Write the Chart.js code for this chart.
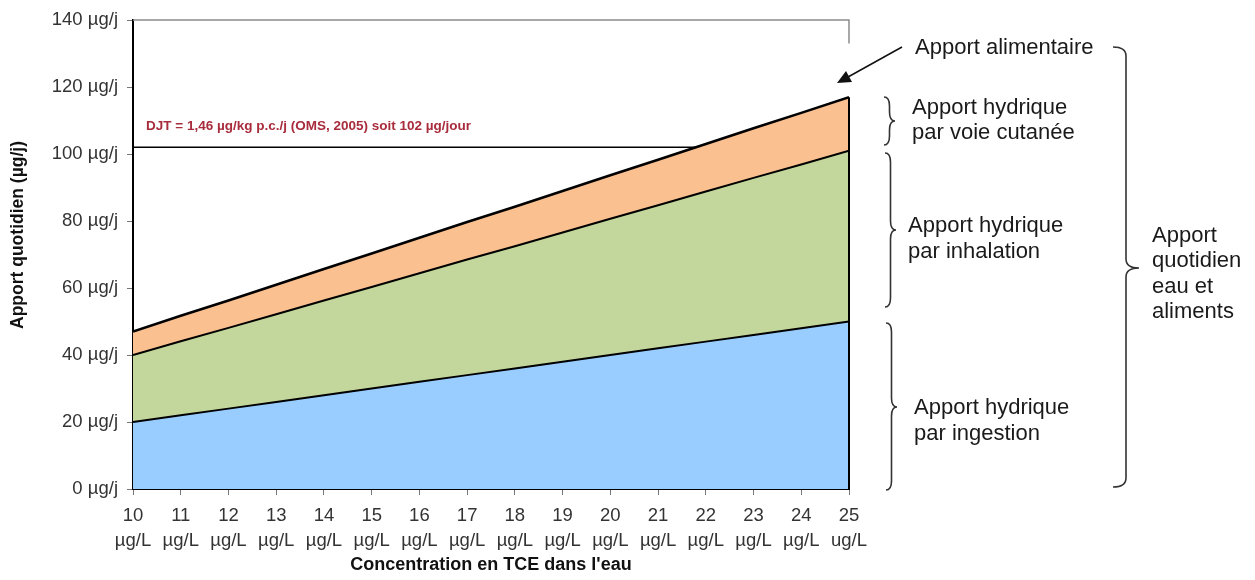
<!DOCTYPE html>
<html lang="fr">
<head>
<meta charset="utf-8">
<title>Apport quotidien en TCE</title>
<script src="https://cdn.jsdelivr.net/npm/chart.js@4.4.1/dist/chart.umd.min.js"></script>
<style>
  html, body { margin: 0; padding: 0; background: #fff; }
  canvas { display: block; }
</style>
</head>
<body>
<canvas id="tceChart" width="1255" height="580"></canvas>
<script>
// concentration en TCE dans l'eau (µg/L)
const concentrations = [10, 11, 12, 13, 14, 15, 16, 17, 18, 19, 20, 21, 22, 23, 24, 25];

// apports (µg/j), couches empilées
const ingestion = [20, 22, 24, 26, 28, 30, 32, 34, 36, 38, 40, 42, 44, 46, 48, 50];
const inhalation = [20, 22.1, 24.1, 26.2, 28.3, 30.3, 32.4, 34.5, 36.5, 38.6, 40.7, 42.7, 44.8, 46.9, 48.9, 51];
const cutanee = [7, 7.6, 8.2, 8.8, 9.4, 10, 10.6, 11.2, 11.8, 12.4, 13, 13.6, 14.2, 14.8, 15.4, 16];

const djtValue = 102;
const djtLabel = "DJT = 1,46 µg/kg p.c./j (OMS, 2005) soit 102 µg/jour";

const xTickLabels = [
  ["10", "µg/L"], ["11", "µg/L"], ["12", "µg/L"], ["13", "µg/L"], ["14", "µg/L"],
  ["15", "µg/L"], ["16", "µg/L"], ["17", "µg/L"], ["18", "µg/L"], ["19", "µg/L"],
  ["20", "µg/L"], ["21", "µg/L"], ["22", "µg/L"], ["23", "µg/L"], ["24", "µg/L"],
  ["25", "ug/L"]
];
const yTickLabels = ["0 µg/j", "20 µg/j", "40 µg/j", "60 µg/j", "80 µg/j", "100 µg/j", "120 µg/j", "140 µg/j"];
const yTitle = "Apport quotidien (µg/j)";

const toPoints = arr => concentrations.map((x, i) => ({ x: x, y: arr[i] }));

// where the total crosses the DJT
const totals = concentrations.map((_, i) => ingestion[i] + inhalation[i] + cutanee[i]);
let djtEnd = concentrations[concentrations.length - 1];
for (let i = 1; i < totals.length; i++) {
  if (totals[i - 1] <= djtValue && totals[i] >= djtValue) {
    const t = (djtValue - totals[i - 1]) / (totals[i] - totals[i - 1]);
    djtEnd = concentrations[i - 1] + t * (concentrations[i] - concentrations[i - 1]);
    break;
  }
}

const FONT = "Arial, 'Liberation Sans', sans-serif";

function drawBrace(ctx, x, top, mid, bottom, w) {
  const r = 9;
  const cx = x + w * 0.5;
  ctx.beginPath();
  ctx.moveTo(x, top);
  ctx.quadraticCurveTo(cx, top, cx, top + r);
  ctx.lineTo(cx, mid - r);
  ctx.quadraticCurveTo(cx, mid, x + w, mid);
  ctx.quadraticCurveTo(cx, mid, cx, mid + r);
  ctx.lineTo(cx, bottom - r);
  ctx.quadraticCurveTo(cx, bottom, x, bottom);
  ctx.stroke();
}

const annotations = {
  id: "annotations",
  afterDatasetsDraw(chart) {
    const ctx = chart.ctx;
    const xs = chart.scales.x, ys = chart.scales.y;
    const last = concentrations.length - 1;
    ctx.save();

    // right edge of the stacked area
    ctx.strokeStyle = "#000";
    ctx.lineWidth = 2;
    ctx.beginPath();
    ctx.moveTo(xs.getPixelForValue(concentrations[last]), ys.getPixelForValue(0));
    ctx.lineTo(xs.getPixelForValue(concentrations[last]), ys.getPixelForValue(totals[last]));
    ctx.stroke();

    // grey frame at the top
    ctx.strokeStyle = "#8c8c8c";
    ctx.lineWidth = 1.5;
    ctx.beginPath();
    ctx.moveTo(xs.getPixelForValue(10), ys.getPixelForValue(140));
    ctx.lineTo(xs.getPixelForValue(25), ys.getPixelForValue(140));
    ctx.lineTo(xs.getPixelForValue(25), ys.getPixelForValue(133));
    ctx.stroke();

    // y title
    ctx.save();
    ctx.translate(18, 235);
    ctx.rotate(-Math.PI / 2);
    ctx.fillStyle = "#111";
    ctx.font = "bold 17.5px " + FONT;
    ctx.textAlign = "center";
    ctx.textBaseline = "middle";
    ctx.fillText(yTitle, 0, 0);
    ctx.restore();

    // DJT label
    ctx.fillStyle = "#a82c3c";
    ctx.font = "bold 13.5px " + FONT;
    ctx.textBaseline = "middle";
    ctx.textAlign = "left";
    ctx.fillText(djtLabel, xs.getPixelForValue(10) + 13, ys.getPixelForValue(djtValue) - 21);

    // arrow to the top of the stack
    ctx.strokeStyle = "#111";
    ctx.fillStyle = "#111";
    ctx.lineWidth = 1.5;
    ctx.beginPath();
    ctx.moveTo(902, 47);
    ctx.lineTo(848, 77);
    ctx.stroke();
    ctx.beginPath();
    ctx.moveTo(837, 83);
    ctx.lineTo(846, 71);
    ctx.lineTo(852, 82);
    ctx.closePath();
    ctx.fill();

    // braces
    ctx.strokeStyle = "#333";
    ctx.lineWidth = 1.6;
    drawBrace(ctx, 884, 97, 121, 145, 11);
    drawBrace(ctx, 885, 153, 230, 307, 11);
    drawBrace(ctx, 886, 323, 407, 490, 11);
    drawBrace(ctx, 1113, 47, 268, 487, 26);

    // texts
    ctx.fillStyle = "#1a1a1a";
    ctx.font = "22px " + FONT;
    ctx.textAlign = "left";
    ctx.fillText("Apport alimentaire", 915, 48);
    ctx.fillText("Apport hydrique", 912, 108);
    ctx.fillText("par voie cutanée", 912, 133);
    ctx.fillText("Apport hydrique", 908, 226);
    ctx.fillText("par inhalation", 908, 252);
    ctx.fillText("Apport hydrique", 914, 408);
    ctx.fillText("par ingestion", 914, 434);
    ctx.fillText("Apport", 1152, 236);
    ctx.fillText("quotidien", 1152, 261);
    ctx.fillText("eau et", 1152, 287);
    ctx.fillText("aliments", 1152, 312);
    ctx.restore();
  }
};

const tickFont = { family: FONT, size: 18.5 };

new Chart(document.getElementById("tceChart"), {
  type: "line",
  data: {
    datasets: [
      {
        label: "Apport hydrique par ingestion",
        data: toPoints(ingestion),
        stack: "apport",
        fill: "origin",
        backgroundColor: "#99ccff",
        borderColor: "#000",
        borderWidth: 2,
        pointRadius: 0,
        tension: 0
      },
      {
        label: "Apport hydrique par inhalation",
        data: toPoints(inhalation),
        stack: "apport",
        fill: "-1",
        backgroundColor: "#c3d69b",
        borderColor: "#000",
        borderWidth: 2,
        pointRadius: 0,
        tension: 0
      },
      {
        label: "Apport hydrique par voie cutanée",
        data: toPoints(cutanee),
        stack: "apport",
        fill: "-1",
        backgroundColor: "#fac090",
        borderColor: "#000",
        borderWidth: 2.6,
        pointRadius: 0,
        tension: 0
      },
      {
        label: "DJT",
        data: [{ x: concentrations[0], y: djtValue }, { x: djtEnd, y: djtValue }],
        stack: "djt",
        fill: false,
        borderColor: "#000",
        borderWidth: 1.5,
        pointRadius: 0
      }
    ]
  },
  options: {
    responsive: false,
    animation: false,
    devicePixelRatio: 1,
    layout: { padding: { top: 19, right: 406, left: 0, bottom: 0 } },
    plugins: {
      legend: { display: false },
      tooltip: { enabled: false }
    },
    scales: {
      x: {
        type: "linear",
        min: 10,
        max: 25,
        afterFit: s => { s.height = 91; },
        ticks: {
          stepSize: 1,
          autoSkip: false,
          maxRotation: 0,
          padding: 8,
          color: "#333",
          font: Object.assign({ lineHeight: 1.35 }, tickFont),
          callback: (v, i) => xTickLabels[i]
        },
        grid: { drawOnChartArea: false, drawTicks: true, tickLength: 6, color: "#777" },
        border: { display: true, color: "#000", width: 2 },
        title: {
          display: true,
          text: "Concentration en TCE dans l'eau",
          color: "#111",
          font: { family: FONT, size: 18, weight: "bold" },
          padding: { top: 0, bottom: 4 }
        }
      },
      y: {
        stacked: true,
        min: 0,
        max: 140,
        afterFit: s => { s.width = 133; },
        ticks: {
          stepSize: 20,
          padding: 9,
          color: "#333",
          font: tickFont,
          callback: (v, i) => yTickLabels[i]
        },
        grid: { drawOnChartArea: false, drawTicks: true, tickLength: 6, color: "#777" },
        border: { display: true, color: "#000", width: 2 },
        title: { display: false, text: yTitle }
      }
    }
  },
  plugins: [annotations]
});
</script>
</body>
</html>
